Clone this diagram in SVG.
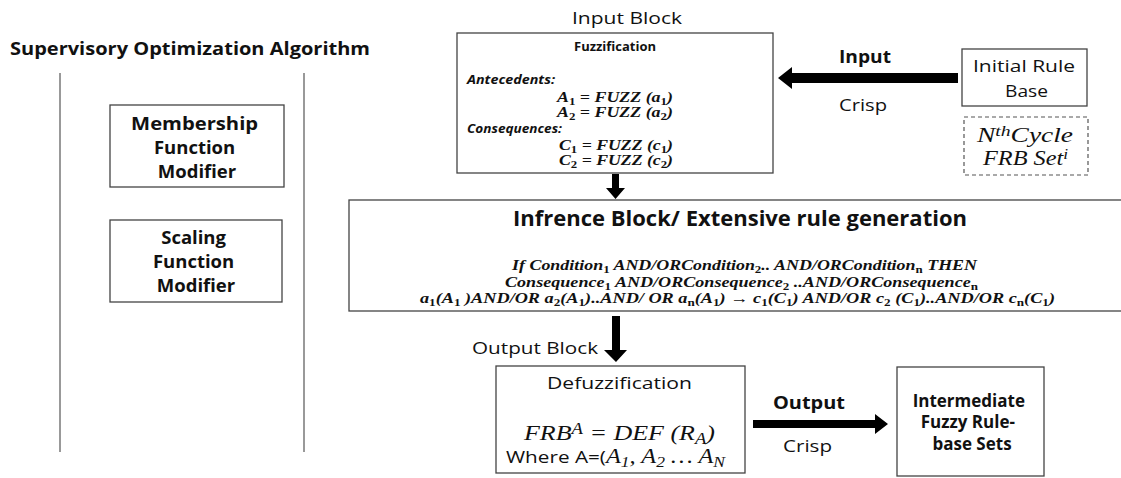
<svg xmlns="http://www.w3.org/2000/svg" width="1121" height="478" viewBox="0 0 1121 478">
<style>
.box{fill:#fff;stroke:#444;stroke-width:1.3}
.dash{fill:#fff;stroke:#555;stroke-width:1.2;stroke-dasharray:4 3}
.sans{font-family:"Open Sans","Liberation Sans",sans-serif;fill:#111}
.b{font-weight:bold}
.math{font-family:"Liberation Serif","DejaVu Serif",serif;font-style:italic;fill:#111}
.mb{font-family:"Liberation Serif","DejaVu Serif",serif;font-style:italic;font-weight:bold;fill:#111}
.sub{font-size:72%;font-style:normal;baseline-shift:-2.5px}
.subL{font-size:72%;baseline-shift:-3.5px}
.sup{font-size:72%;baseline-shift:6px}
.arr{fill:#000}
.vline{stroke:#555;stroke-width:1.2}
</style>
<rect width="1121" height="478" fill="#fff"/>

<g id="supervisory">
  <text class="sans b" x="10" y="55" font-size="18" textLength="360" lengthAdjust="spacingAndGlyphs">Supervisory Optimization Algorithm</text>
  <line class="vline" x1="60" y1="73" x2="60" y2="452"/>
  <line class="vline" x1="304" y1="73" x2="304" y2="452"/>
</g>

<g id="membership">
  <rect class="box" x="110" y="105" width="174" height="82"/>
  <text class="sans b" font-size="18.5" text-anchor="middle">
    <tspan x="197" y="130" textLength="127" lengthAdjust="spacingAndGlyphs">Membership</tspan>
    <tspan x="197" y="154">Function</tspan>
    <tspan x="197" y="178">Modifier</tspan>
  </text>
</g>

<g id="scaling">
  <rect class="box" x="110" y="220" width="172" height="82"/>
  <text class="sans b" font-size="18.5" text-anchor="middle">
    <tspan x="196" y="244">Scaling</tspan>
    <tspan x="196" y="268">Function</tspan>
    <tspan x="196" y="292">Modifier</tspan>
  </text>
</g>

<g id="input-block">
  <text class="sans" x="572" y="24" font-size="17" textLength="110" lengthAdjust="spacingAndGlyphs">Input Block</text>
  <rect class="box" x="457" y="33" width="316" height="140"/>
  <text class="sans b" x="574" y="51" font-size="12.5" textLength="82" lengthAdjust="spacingAndGlyphs">Fuzzification</text>
  <text class="sans b" x="467" y="84" font-size="12.5" font-style="italic" textLength="88" lengthAdjust="spacingAndGlyphs">Antecedents:</text>
  <text class="mb" x="557" y="102" font-size="15.5" textLength="116" lengthAdjust="spacingAndGlyphs">A<tspan class="sub">1</tspan> = FUZZ (a<tspan class="sub">1</tspan>)</text>
  <text class="mb" x="557" y="117" font-size="15.5" textLength="116" lengthAdjust="spacingAndGlyphs">A<tspan class="sub">2</tspan> = FUZZ (a<tspan class="sub">2</tspan>)</text>
  <text class="sans b" x="467" y="133" font-size="12.5" font-style="italic" textLength="95" lengthAdjust="spacingAndGlyphs">Consequences:</text>
  <text class="mb" x="559" y="150" font-size="15.5" textLength="114" lengthAdjust="spacingAndGlyphs">C<tspan class="sub">1</tspan> = FUZZ (c<tspan class="sub">1</tspan>)</text>
  <text class="mb" x="559" y="165" font-size="15.5" textLength="114" lengthAdjust="spacingAndGlyphs">C<tspan class="sub">2</tspan> = FUZZ (c<tspan class="sub">2</tspan>)</text>
</g>

<g id="initial-rule-base">
  <rect class="box" x="962" y="49" width="125" height="57"/>
  <text class="sans" x="973" y="72" font-size="17" textLength="102" lengthAdjust="spacingAndGlyphs">Initial Rule</text>
  <text class="sans" x="1005" y="97" font-size="17" textLength="43" lengthAdjust="spacingAndGlyphs">Base</text>
</g>

<g id="nth-cycle">
  <rect class="dash" x="964" y="117" width="124" height="58"/>
  <text class="math" x="977" y="142" font-size="21" textLength="96" lengthAdjust="spacingAndGlyphs">N<tspan class="sup">th</tspan>Cycle</text>
  <text class="math" x="983" y="165" font-size="21" textLength="85" lengthAdjust="spacingAndGlyphs">FRB Set<tspan class="sup">i</tspan></text>
</g>

<g id="inference-block">
  <rect class="box" x="349" y="200" width="780" height="111"/>
  <text class="sans b" x="513" y="226" font-size="22" textLength="454" lengthAdjust="spacingAndGlyphs">Infrence Block/ Extensive rule generation</text>
  <text class="mb" x="512" y="270" font-size="14" textLength="465" lengthAdjust="spacingAndGlyphs">If Condition<tspan class="sub">1</tspan> AND/ORCondition<tspan class="sub">2</tspan>.. AND/ORCondition<tspan class="sub">n</tspan> THEN</text>
  <text class="mb" x="505" y="287" font-size="14" textLength="473" lengthAdjust="spacingAndGlyphs">Consequence<tspan class="sub">1</tspan> AND/ORConsequence<tspan class="sub">2</tspan> ..AND/ORConsequence<tspan class="sub">n</tspan></text>
  <text class="mb" x="420" y="303" font-size="14.5" textLength="635" lengthAdjust="spacingAndGlyphs">a<tspan class="sub">1</tspan>(A<tspan class="sub">1</tspan> )AND/OR a<tspan class="sub">2</tspan>(A<tspan class="sub">1</tspan>)..AND/ OR a<tspan class="sub">n</tspan>(A<tspan class="sub">1</tspan>) → c<tspan class="sub">1</tspan>(C<tspan class="sub">1</tspan>) AND/OR  c<tspan class="sub">2</tspan> (C<tspan class="sub">1</tspan>)..AND/OR c<tspan class="sub">n</tspan>(C<tspan class="sub">1</tspan>)</text>
</g>

<g id="output-block">
  <text class="sans" x="472" y="354" font-size="17" textLength="126" lengthAdjust="spacingAndGlyphs">Output Block</text>
  <rect class="box" x="496" y="366" width="249" height="107"/>
  <text class="sans" x="547" y="389" font-size="17" textLength="145" lengthAdjust="spacingAndGlyphs">Defuzzification</text>
  <text class="math" x="524" y="440" font-size="22" textLength="191" lengthAdjust="spacingAndGlyphs">FRB<tspan class="sup">A</tspan> = DEF (R<tspan class="subL">A</tspan>)</text>
  <text x="506" y="463" font-size="17" textLength="219" lengthAdjust="spacingAndGlyphs"><tspan class="sans">Where A=(</tspan><tspan class="math" font-size="20">A<tspan class="subL">1</tspan>, A<tspan class="subL">2</tspan> … A<tspan class="subL">N</tspan></tspan></text>
</g>

<g id="intermediate">
  <rect class="box" x="897" y="367" width="147" height="109"/>
  <text class="sans b" font-size="17" text-anchor="middle">
    <tspan x="971" y="407">Intermediate</tspan>
    <tspan x="970" y="428">Fuzzy Rule-</tspan>
    <tspan x="972" y="450">base Sets</tspan>
  </text>
</g>

<g id="connectors">
  <polygon class="arr" points="958,73 792,73 792,67 778,78 792,89 792,83 958,83"/>
  <text class="sans b" x="839" y="63" font-size="17" textLength="52" lengthAdjust="spacingAndGlyphs">Input</text>
  <text class="sans" x="839" y="111" font-size="16" textLength="48" lengthAdjust="spacingAndGlyphs">Crisp</text>
  <polygon class="arr" points="612,174 619,174 619,188 625,188 615.5,199 606,188 612,188"/>
  <polygon class="arr" points="612,316 620,316 620,350 627,350 616,362 604,350 612,350"/>
  <polygon class="arr" points="753,420 875,420 875,414 888,424 875,434 875,428 753,428"/>
  <text class="sans b" x="773" y="409" font-size="17" textLength="72" lengthAdjust="spacingAndGlyphs">Output</text>
  <text class="sans" x="783" y="452" font-size="16" textLength="49" lengthAdjust="spacingAndGlyphs">Crisp</text>
</g>
</svg>
